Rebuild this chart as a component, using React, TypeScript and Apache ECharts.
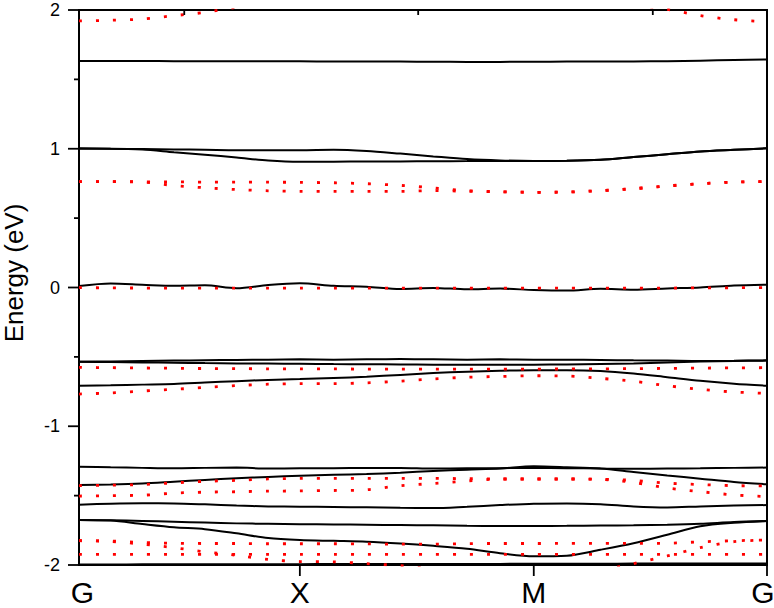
import React, { useEffect, useRef } from "react";
import * as echarts from "echarts";

// k-path coordinate (normalised path length): G=0, X=0.321, M=0.661, G=1
const kPath = [
  0, 0.046, 0.092, 0.138, 0.183, 0.229, 0.275, 0.321,
  0.37, 0.418, 0.467, 0.515, 0.564, 0.612, 0.661,
  0.709, 0.758, 0.806, 0.855, 0.903, 0.952, 1.0,
];
const kTickValues = [0, 0.321, 0.661, 1.0];
const kTickLabels = ["G", "X", "M", "G"];
const bottomTickValues = [0.321, 0.661, 1.0];
const topTickValues = [0.153, 0.493, 0.834];
const energyMajorTicks = [-2, -1, 0, 1, 2];
const energyMinorTicks = [-1.5, -0.5, 0.5, 1.5];

// ---- black (solid) bands, energy in eV ----
const black163 = [1.633, 1.632, 1.632, 1.631, 1.63, 1.63, 1.63, 1.63, 1.629, 1.628, 1.628, 1.627, 1.626, 1.626, 1.627, 1.628, 1.628, 1.629, 1.631, 1.635, 1.64, 1.643];
const black100a = [1.003, 1.0, 0.998, 0.995, 0.993, 0.99, 0.99, 0.99, 0.993, 0.984, 0.965, 0.945, 0.926, 0.916, 0.912, 0.913, 0.92, 0.94, 0.96, 0.98, 0.992, 1.003];
const black100b = [1.0, 1.0, 0.995, 0.975, 0.957, 0.937, 0.915, 0.906, 0.907, 0.908, 0.909, 0.91, 0.911, 0.912, 0.912, 0.913, 0.92, 0.94, 0.96, 0.98, 0.992, 1.003];
const black000 = [0.01, 0.028, 0.02, 0.012, 0.016, -0.005, 0.018, 0.03, 0.013, 0.006, -0.01, -0.003, -0.013, -0.008, -0.018, -0.022, -0.009, -0.016, -0.007, 0.0, 0.014, 0.02];
const blackM52 = [-0.535, -0.533, -0.53, -0.527, -0.524, -0.522, -0.52, -0.518, -0.52, -0.518, -0.515, -0.518, -0.52, -0.518, -0.52, -0.52, -0.522, -0.525, -0.527, -0.53, -0.528, -0.525];
const blackM55 = [-0.535, -0.537, -0.54, -0.542, -0.545, -0.547, -0.548, -0.55, -0.552, -0.553, -0.555, -0.556, -0.556, -0.556, -0.556, -0.555, -0.552, -0.548, -0.54, -0.533, -0.53, -0.527];
const blackM70 = [-0.708, -0.705, -0.7, -0.695, -0.685, -0.675, -0.666, -0.66, -0.652, -0.643, -0.63, -0.617, -0.607, -0.6, -0.596, -0.596, -0.602, -0.62, -0.646, -0.672, -0.693, -0.708];
const blackM130 = [-1.291, -1.296, -1.3, -1.303, -1.3, -1.298, -1.305, -1.303, -1.302, -1.3, -1.3, -1.305, -1.303, -1.302, -1.3, -1.302, -1.305, -1.307, -1.305, -1.303, -1.3, -1.298];
const blackM142 = [-1.423, -1.42, -1.413, -1.4, -1.387, -1.375, -1.365, -1.356, -1.35, -1.345, -1.335, -1.322, -1.313, -1.305, -1.288, -1.295, -1.305, -1.33, -1.355, -1.378, -1.402, -1.418];
const blackM157 = [-1.565, -1.558, -1.555, -1.556, -1.563, -1.572, -1.578, -1.58, -1.582, -1.584, -1.588, -1.59, -1.58, -1.568, -1.558, -1.556, -1.562, -1.578, -1.585, -1.578, -1.572, -1.568];
const blackM170 = [-1.676, -1.678, -1.682, -1.688, -1.694, -1.7, -1.703, -1.706, -1.708, -1.71, -1.712, -1.714, -1.717, -1.719, -1.719, -1.718, -1.716, -1.714, -1.71, -1.703, -1.69, -1.683];
const blackM190 = [-1.676, -1.68, -1.705, -1.728, -1.742, -1.772, -1.806, -1.82, -1.826, -1.832, -1.845, -1.862, -1.883, -1.915, -1.937, -1.933, -1.89, -1.843, -1.782, -1.72, -1.695, -1.683];
const blackM199 = [-1.996, -1.996, -1.995, -1.995, -1.995, -1.995, -1.994, -1.994, -1.993, -1.993, -1.993, -1.992, -1.992, -1.992, -1.991, -1.991, -1.991, -1.99, -1.99, -1.99, -1.99, -1.99];

// ---- red (dotted) bands ----
const red192 = [1.921, 1.926, 1.935, 1.959, 1.983, 2.02, 2.06, null, null, null, null, null, null, null, null, null, null, 2.04, 2.005, 1.96, 1.93, 1.916];
const red076a = [0.763, 0.763, 0.762, 0.761, 0.76, 0.76, 0.759, 0.758, 0.755, 0.748, 0.736, 0.718, 0.698, 0.69, 0.686, 0.688, 0.698, 0.712, 0.732, 0.748, 0.76, 0.763];
const red076b = [0.763, 0.763, 0.76, 0.735, 0.719, 0.706, 0.697, 0.693, 0.693, 0.693, 0.693, 0.698, 0.694, 0.69, 0.686, 0.688, 0.698, 0.712, 0.732, 0.748, 0.76, 0.763];
const red000 = [0.0, -0.003, -0.004, -0.005, -0.005, -0.005, -0.005, -0.005, -0.005, -0.005, -0.005, -0.005, -0.005, -0.005, -0.005, -0.005, -0.005, -0.005, -0.004, -0.003, -0.002, 0.0];
const redM58 = [-0.575, -0.578, -0.58, -0.582, -0.584, -0.585, -0.586, -0.587, -0.587, -0.588, -0.588, -0.588, -0.588, -0.588, -0.588, -0.587, -0.586, -0.585, -0.583, -0.581, -0.579, -0.578];
const redM76 = [-0.768, -0.76, -0.746, -0.734, -0.72, -0.707, -0.697, -0.693, -0.693, -0.687, -0.675, -0.659, -0.647, -0.641, -0.636, -0.638, -0.655, -0.676, -0.708, -0.734, -0.753, -0.763];
const redM143 = [-1.428, -1.425, -1.42, -1.408, -1.397, -1.39, -1.38, -1.376, -1.375, -1.375, -1.375, -1.375, -1.378, -1.38, -1.38, -1.38, -1.382, -1.39, -1.41, -1.42, -1.428, -1.43];
const redM150 = [-1.503, -1.5, -1.497, -1.482, -1.475, -1.472, -1.468, -1.466, -1.463, -1.458, -1.428, -1.413, -1.395, -1.38, -1.38, -1.38, -1.383, -1.405, -1.445, -1.471, -1.495, -1.507];
const redM183 = [-1.825, -1.827, -1.838, -1.843, -1.845, -1.845, -1.847, -1.847, -1.847, -1.848, -1.85, -1.85, -1.846, -1.845, -1.845, -1.844, -1.844, -1.844, -1.843, -1.833, -1.825, -1.82];
const redM190 = [-1.825, -1.83, -1.85, -1.875, -1.905, -1.93, -1.96, -1.975, -1.977, -1.99, -2.005, -2.03, null, null, null, null, -2.04, -1.99, -1.935, -1.875, -1.832, -1.82];
const redM192 = [-1.923, -1.923, -1.923, -1.923, -1.923, -1.923, -1.923, -1.923, -1.923, -1.923, -1.923, -1.923, -1.923, -1.923, -1.923, -1.923, -1.923, -1.923, -1.923, -1.923, -1.923, -1.923];

const solidBands = [black163, black100a, black100b, black000, blackM52, blackM55, blackM70, blackM130, blackM142, blackM157, blackM170, blackM190, blackM199];
const dottedBands = [red192, red076a, red076b, red000, redM58, redM76, redM143, redM150, redM183, redM190, redM192];

const FONT = "'Liberation Sans', Arial, Helvetica, sans-serif";

// grid layout (pixels)
const GRID = { left: 79, right: 7, top: 10, bottom: 43 };
const CHART_W = 774;
const CHART_H = 608;
const E_MIN = -2;
const E_MAX = 2;

function toData(band: (number | null)[]) {
  return kPath.map((k, i) => [k, band[i] == null ? "-" : band[i]]);
}

// axis-decoration positions from the grid layout and axis ranges
function kToX(k: number) {
  return GRID.left + k * (CHART_W - GRID.left - GRID.right);
}
function eToY(e: number) {
  return GRID.top + ((E_MAX - e) / (E_MAX - E_MIN)) * (CHART_H - GRID.top - GRID.bottom);
}

export default function App() {
  const ref = useRef<HTMLDivElement>(null);

  useEffect(() => {
    if (!ref.current) return;
    const chart = echarts.init(ref.current, undefined, { renderer: "svg" });

    const series: any[] = [];
    solidBands.forEach((b, i) => {
      series.push({
        type: "line",
        name: "calc-" + i,
        data: toData(b),
        showSymbol: false,
        smooth: 0.3,
        clip: true,
        lineStyle: { color: "#000000", width: 2 },
        z: 2,
      });
    });
    dottedBands.forEach((b, i) => {
      series.push({
        type: "line",
        name: "ref-" + i,
        data: toData(b),
        showSymbol: false,
        smooth: 0.3,
        clip: true,
        lineStyle: { color: "#ff0000", width: 2.8, type: [3, 14], cap: "butt" },
        z: 3,
      });
    });

    const labelFormatter = (v: number) => {
      let best = 0;
      kTickValues.forEach((t, i) => {
        if (Math.abs(t - v) < Math.abs(kTickValues[best] - v)) best = i;
      });
      if (best === 0) return "{first|" + kTickLabels[best] + "}";
      if (best === kTickValues.length - 1) return "{last|" + kTickLabels[best] + "}";
      return "{mid|" + kTickLabels[best] + "}";
    };

    const kLabelStyle = { fontSize: 30, fontFamily: FONT, color: "#000" };

    const tickStyle = { stroke: "#000000", lineWidth: 1.8 };
    const ticks: any[] = [];
    const x0 = kToX(0);
    energyMajorTicks.forEach((v) => {
      const y = eToY(v);
      ticks.push({ type: "line", silent: true, z: 100, shape: { x1: x0 - 11, y1: y, x2: x0, y2: y }, style: tickStyle });
    });
    energyMinorTicks.forEach((v) => {
      const y = eToY(v);
      ticks.push({ type: "line", silent: true, z: 100, shape: { x1: x0 - 5, y1: y, x2: x0, y2: y }, style: tickStyle });
    });
    bottomTickValues.forEach((k) => {
      const x = kToX(k);
      const y = eToY(E_MIN);
      ticks.push({ type: "line", silent: true, z: 100, shape: { x1: x, y1: y, x2: x, y2: y + 11 }, style: tickStyle });
    });
    topTickValues.forEach((k) => {
      const x = kToX(k);
      const y = eToY(E_MAX);
      ticks.push({ type: "line", silent: true, z: 100, shape: { x1: x, y1: y, x2: x, y2: y + 5 }, style: tickStyle });
    });

    const option: any = {
      animation: false,
      backgroundColor: "#ffffff",
      grid: {
        ...GRID,
        containLabel: false,
        outerBoundsMode: "none",
        show: true,
        borderColor: "#000000",
        borderWidth: 2,
        backgroundColor: "transparent",
      },
      xAxis: {
        type: "value",
        position: "bottom",
        min: 0,
        max: 1,
        axisLine: { show: true, onZero: false, lineStyle: { color: "#000", width: 2 } },
        axisTick: { show: false },
        axisLabel: {
          show: true,
          customValues: kTickValues,
          formatter: labelFormatter,
          margin: 12,
          rich: {
            first: { ...kLabelStyle, padding: [0, 0, 0, 7] },
            mid: { ...kLabelStyle },
            last: { ...kLabelStyle, padding: [0, 8, 0, 0] },
          },
        },
        splitLine: { show: false },
      },
      yAxis: {
        type: "value",
        min: E_MIN,
        max: E_MAX,
        interval: 1,
        axisLine: { show: true, onZero: false, lineStyle: { color: "#000", width: 2 } },
        axisTick: { show: false },
        minorTick: { show: false },
        axisLabel: { color: "#000", fontSize: 18, fontFamily: FONT, margin: 19 },
        splitLine: { show: false },
        minorSplitLine: { show: false },
      },
      graphic: [
        {
          type: "text",
          x: 14,
          y: 273,
          rotation: Math.PI / 2,
          style: {
            text: "Energy (eV)",
            fontSize: 26,
            fontFamily: FONT,
            fill: "#000",
            align: "center",
            verticalAlign: "middle",
          },
        },
        ...ticks,
      ],
      series,
    };

    chart.setOption(option);

    return () => {
      chart.dispose();
    };
  }, []);

  return (
    <div
      ref={ref}
      style={{ position: "fixed", left: 0, top: 0, width: CHART_W, height: CHART_H, background: "#fff" }}
    />
  );
}
